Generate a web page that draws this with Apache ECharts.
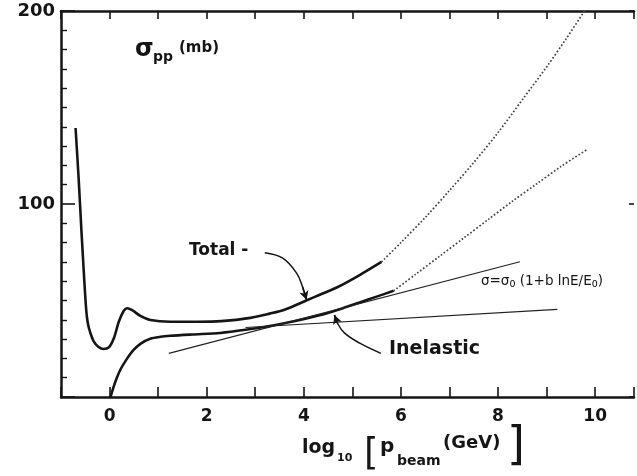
<!DOCTYPE html>
<html><head><meta charset="utf-8">
<script src="https://cdn.jsdelivr.net/npm/echarts@6/dist/echarts.min.js"></script>
<style>html,body{margin:0;padding:0;background:#fff}#c{width:637px;height:476px}</style>
</head><body><div id="c"></div>
<script>
// ---- data ----
const xTickLabels = [0, 2, 4, 6, 8, 10];
const yTickLabels = [100, 200];

const totalSolidX = [-0.70,-0.635,-0.58,-0.533,-0.505,-0.485,-0.465,-0.44,-0.40,-0.33,-0.225,-0.123,-0.014,0.088,0.19,0.293,0.363,0.465,0.635,0.84,1.25,1.8,2.3,2.9,3.3,3.6,4.05,4.33,4.7,5.15,5.6];
const totalSolidY = [139.4,112.4,86.5,65.8,54,46.5,41.2,37.3,33.6,29,25.9,24.9,25.7,30.4,39,44.7,46,45,42,39.9,39,39,39.3,41,43.2,45.2,50,53,57,63.2,70];

const totalExtX = [5.6,6.0,6.5,7.0,7.5,8.0,8.5,9.0,9.4,9.78];
const totalExtY = [70,80,93,107,121.5,137,154,171,185.5,200];

const inelSolidX = [0.02,0.08,0.15,0.23,0.35,0.5,0.65,0.84,1.05,1.25,1.7,2.28,2.8,3.3,3.8,4.3,4.74,5.15,5.5,5.85];
const inelSolidY = [0,5,10,14.5,19.5,24.5,27.8,30.2,31.2,31.7,32.4,33.2,34.8,36.8,39.2,42.2,45.5,49,52,55];

const inelExtX = [5.85,6.3,6.8,7.3,7.8,8.3,8.8,9.3,9.82];
const inelExtY = [55,63.5,73,82.5,92,101.5,110.5,119.5,128];

const fitLineX = [1.22, 8.45];
const fitLineY = [22.6, 70.1];

const flatLineX = [2.8, 9.22];
const flatLineY = [36, 45.4];

// annotation arrows (data coordinates)
const totalArrowX = [3.197, 3.566, 3.852, 3.975, 4.057];
const totalArrowY = [74.8, 72.0, 64.2, 57.0, 50.3];
const inelArrowX = [5.588, 5.143, 4.836, 4.693, 4.631];
const inelArrowY = [22.6, 28.0, 33.2, 38.3, 42.5];

// ---- build ----
const zip = (xs, ys) => xs.map((x, i) => [x, ys[i]]);
const INK = '#151515';
const FONT = 'DejaVu Sans';

const chart = echarts.init(document.getElementById('c'), null, {renderer: 'canvas'});

function arrowSeries(xs, ys) {
  const pts = zip(xs, ys);
  const n = pts.length;
  return {
    type: 'line', data: pts, smooth: 0.4, showSymbol: false, silent: true,
    lineStyle: {color: INK, width: 1.5},
    markLine: {
      silent: true, symbol: ['none', 'arrow'], symbolSize: [7, 9],
      label: {show: false},
      lineStyle: {color: INK, width: 1.5, type: 'solid'},
      data: [[{coord: pts[n - 2]}, {coord: pts[n - 1]}]]
    }
  };
}

const option = {
  backgroundColor: '#fff',
  animation: false,
  grid: {left: 61, top: 11, width: 576, height: 386},
  xAxis: [
    {
      type: 'value', min: -1, max: 10.8, interval: 1, position: 'bottom',
      axisLine: {show: true, onZero: false, lineStyle: {color: INK, width: 2.5}},
      axisTick: {show: true, inside: true, length: 10, lineStyle: {color: INK, width: 1.6}},
      axisLabel: {
        margin: 11, color: INK, fontFamily: FONT, fontWeight: 'bold', fontSize: 17,
        formatter: v => xTickLabels.indexOf(v) >= 0 ? String(v) : ''
      },
      splitLine: {show: false}
    },
    {
      type: 'value', min: -1, max: 10.8, interval: 1, position: 'top',
      axisLine: {show: true, onZero: false, lineStyle: {color: INK, width: 2.5}},
      axisTick: {show: true, inside: true, length: 8, lineStyle: {color: INK, width: 1.6}},
      axisLabel: {show: false}, splitLine: {show: false}
    }
  ],
  yAxis: [
    {
      type: 'value', min: 0, max: 200, interval: 100, position: 'left',
      axisLine: {show: true, onZero: false, lineStyle: {color: INK, width: 2.5}},
      axisTick: {show: true, inside: true, length: 14, lineStyle: {color: INK, width: 1.6}},
      minorTick: {show: true, splitNumber: 10, length: 6, lineStyle: {color: INK, width: 1.4}},
      axisLabel: {
        margin: 6, color: INK, fontFamily: FONT, fontWeight: 'bold', fontSize: 18,
        formatter: v => yTickLabels.indexOf(v) >= 0 ? String(v) : ''
      },
      splitLine: {show: false}, minorSplitLine: {show: false}
    },
    {
      type: 'value', min: 0, max: 200, interval: 100, position: 'right',
      axisLine: {show: false, onZero: false},
      axisTick: {show: true, inside: true, length: 5, lineStyle: {color: INK, width: 1.6}},
      axisLabel: {show: false}, splitLine: {show: false}
    }
  ],
  series: [
    {type: 'line', data: zip(totalSolidX, totalSolidY), smooth: 0.3, showSymbol: false,
     lineStyle: {color: INK, width: 2.6}, silent: true},
    {type: 'line', data: zip(totalExtX, totalExtY), smooth: 0.3, showSymbol: false,
     lineStyle: {color: '#444', width: 1.7, type: [1.7, 2]}, silent: true},
    {type: 'line', data: zip(inelSolidX, inelSolidY), smooth: 0.3, showSymbol: false,
     lineStyle: {color: INK, width: 2.6}, silent: true},
    {type: 'line', data: zip(inelExtX, inelExtY), smooth: 0.3, showSymbol: false,
     lineStyle: {color: '#444', width: 1.7, type: [1.7, 2]}, silent: true},
    {type: 'line', data: zip(fitLineX, fitLineY), showSymbol: false,
     lineStyle: {color: '#222', width: 1.2}, silent: true},
    {type: 'line', data: zip(flatLineX, flatLineY), showSymbol: false,
     lineStyle: {color: '#222', width: 1.2}, silent: true},
    arrowSeries(totalArrowX, totalArrowY),
    arrowSeries(inelArrowX, inelArrowY)
  ],
  graphic: [
    // panel title sigma_pp (mb)
    {type: 'text', left: 135, top: 38, style: {text: 'σ', font: 'bold 24px "DejaVu Sans"', fill: INK}},
    {type: 'text', left: 153, top: 50, style: {text: 'pp', font: 'bold 14px "DejaVu Sans"', fill: INK}},
    {type: 'text', left: 179, top: 41, style: {text: '(mb)', font: 'bold 15px "DejaVu Sans"', fill: INK}},
    // annotations
    {type: 'text', left: 189, top: 242, style: {text: 'Total -', font: 'bold 17px "DejaVu Sans"', fill: INK}},
    {type: 'text', left: 389, top: 340, style: {text: 'Inelastic', font: 'bold 19px "DejaVu Sans"', fill: INK}},
    {type: 'text', left: 481, top: 274, style: {
      text: '{a|σ=σ}{s|0}{a| (1+b lnE/E}{s|0}{a|)}',
      rich: {a: {fontFamily: FONT, fontSize: 13.5, fill: INK}, s: {fontFamily: FONT, fontSize: 9.5, padding: [7, 0, 0, 0]}}
    }},
    // x-axis name: log10 [p_beam (GeV)]
    {type: 'text', left: 302, top: 439, style: {text: 'log', font: 'bold 19px "DejaVu Sans"', fill: INK}},
    {type: 'text', left: 337, top: 453, style: {text: '10', font: 'bold 11px "DejaVu Sans"', fill: INK}},
    {type: 'text', left: 364, top: 437, style: {text: '[', font: '37px "DejaVu Sans"', fill: INK}},
    {type: 'text', left: 380, top: 437, style: {text: 'p', font: 'bold 20px "DejaVu Sans"', fill: INK}},
    {type: 'text', left: 397, top: 454, style: {text: 'beam', font: 'bold 14px "DejaVu Sans"', fill: INK}},
    {type: 'text', left: 443, top: 434, style: {text: '(GeV)', font: 'bold 18px "DejaVu Sans"', fill: INK}},
    {type: 'text', left: 507, top: 424, style: {text: ']', font: '46px "DejaVu Sans"', fill: INK}}
  ]
};
chart.setOption(option);
</script>
</body></html>
